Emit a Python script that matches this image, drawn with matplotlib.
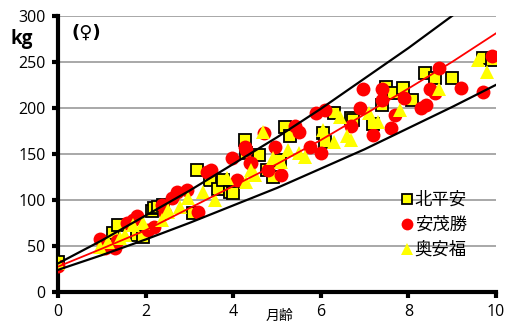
import numpy as np
import matplotlib.pyplot as plt

plt.rcParams['font.family'] = ['Open Sans', 'Noto Sans CJK JP', 'DejaVu Sans']

# 北平安 (squares)
sq_m = [0, 1.26, 1.37, 1.8, 1.95, 2.15, 2.2, 2.28, 2.4, 3.08,
        3.17, 3.47, 3.65, 3.77, 3.93, 4.0, 4.27, 4.3, 4.6, 4.77,
        4.9, 5.07, 5.18, 5.3, 6.05, 6.1, 6.3, 6.7, 6.74, 7.2,
        7.4, 7.5, 7.65, 7.88, 8.08, 8.38, 8.6, 9.0, 9.7, 9.9]
sq_kg = [32, 64, 73, 62, 60, 88, 91, 92, 94, 86,
         132, 122, 112, 122, 109, 108, 165, 151, 149, 133,
         125, 143, 179, 169, 173, 163, 194, 189, 187, 182,
         203, 223, 216, 222, 209, 238, 232, 233, 254, 252]

# 安茂勝 (circles)
ci_m = [0, 0.96, 1.07, 1.3, 1.35, 1.58, 1.71, 1.8, 2.05, 2.2,
        2.37, 2.44, 2.6, 2.72, 2.95, 3.2, 3.4, 3.5, 3.97, 4.08,
        4.27, 4.3, 4.38, 4.4, 4.7, 4.8, 4.95, 5.1, 5.4, 5.5,
        5.75, 5.9, 6.0, 6.1, 6.7, 6.9, 6.96, 7.2, 7.4, 7.4,
        7.6, 7.7, 7.9, 8.3, 8.4, 8.5, 8.6, 8.7, 9.2, 9.7, 9.9]
ci_kg = [28, 58, 48, 48, 55, 75, 78, 82, 67, 71,
         95, 86, 102, 109, 111, 87, 130, 132, 146, 122,
         157, 154, 140, 140, 173, 133, 158, 127, 180, 174,
         158, 194, 151, 198, 180, 200, 220, 170, 220, 209,
         178, 192, 211, 200, 203, 220, 216, 243, 222, 217, 256]

# 奥安福 (triangles)
tr_m = [0, 0.96, 1.15, 1.42, 1.53, 1.71, 1.95, 2.37, 2.5, 2.5,
        2.78, 2.97, 3.3, 3.58, 3.85, 4.3, 4.4, 4.5, 4.68, 4.9,
        5.1, 5.25, 5.5, 5.64, 6.05, 6.3, 6.45, 6.6, 6.7, 7.1,
        7.3, 7.8, 8.7, 9.6, 9.8]
tr_kg = [31, 49, 54, 59, 62, 73, 75, 78, 87, 89,
         92, 102, 109, 100, 124, 120, 133, 127, 174, 146,
         141, 154, 151, 147, 176, 163, 190, 169, 165, 194,
         185, 198, 220, 252, 239]

# reference curves read at whole months
curve_m = [0, 1, 2, 3, 4, 5, 6, 7, 8, 9, 10]
upper_kg = [31, 56, 83, 110, 139, 168, 199, 232, 265, 300, 336]
mid_kg = [27.5, 47, 67, 91, 115, 139, 165, 193, 221, 250, 281]
lower_kg = [24, 40, 57, 75, 94, 113, 134, 155, 178, 201, 225]

names = ['北平安', '安茂勝', '奥安福']

fig = plt.figure(figsize=(5.05, 3.24), dpi=100)
ax = fig.add_axes([0.115, 0.099, 0.867, 0.852])

ax.plot(sq_m, sq_kg, 's', ms=8.5, mfc='#ffff00', mec='black', mew=1.3,
        ls='none', label=names[0], zorder=3)
ax.plot(ci_m, ci_kg, 'o', ms=10, mfc='red', mec='red', mew=0,
        ls='none', label=names[1], zorder=4)
ax.plot(tr_m, tr_kg, '^', ms=10, mfc='#ffff00', mec='#ffff00', mew=0,
        ls='none', label=names[2], zorder=5)

ax.plot(curve_m, upper_kg, color='black', lw=1.6, zorder=6)
ax.plot(curve_m, lower_kg, color='black', lw=1.6, zorder=6)
ax.plot(curve_m, mid_kg, color='red', lw=1.3, zorder=6)

ax.set_xlim(0, 10)
ax.set_ylim(0, 300)
ax.set_xticks([0, 2, 4, 6, 8, 10])
ax.set_yticks(range(0, 301, 50))
ax.yaxis.grid(True, color='#999999', lw=1.2)
ax.set_axisbelow(True)
for s in ['top', 'right']:
    ax.spines[s].set_visible(False)
for s in ['left', 'bottom']:
    ax.spines[s].set_linewidth(3)
ax.tick_params(axis='both', direction='out', length=4, width=3,
               labelsize=11.5, pad=5)

fig.text(0.02, 0.865, 'kg', fontsize=13.5, fontweight='bold')
ax.text(0.3, 276, '(♀)', fontsize=13, fontweight='bold',
        family=['DejaVu Sans'])
fig.text(0.525, 0.012, '月齢', fontsize=10)

leg = ax.legend(loc='upper left', bbox_to_anchor=(0.765, 0.385), frameon=False,
                handlelength=0.8, handletextpad=0.05, labelspacing=0.5,
                borderaxespad=0, fontsize=12.5, markerscale=0.85)

plt.savefig('out.png', dpi=100)
